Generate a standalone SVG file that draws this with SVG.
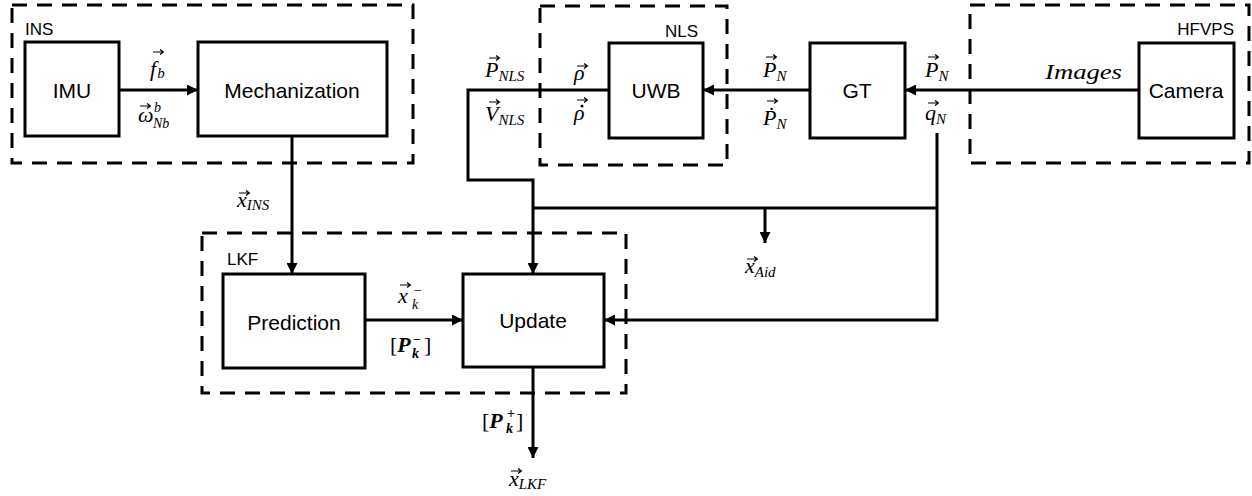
<svg xmlns="http://www.w3.org/2000/svg" width="1252" height="496" viewBox="0 0 1252 496">
<style>
.box{fill:#fff;stroke:#000;stroke-width:3}
.grp{fill:none;stroke:#000;stroke-width:3;stroke-dasharray:15 10}
.wire{fill:none;stroke:#000;stroke-width:3}
.t{font-family:"Liberation Sans",Arial,sans-serif;font-size:21px;fill:#000;text-anchor:middle}
.g{font-family:"Liberation Sans",Arial,sans-serif;font-size:17px;fill:#000}
.m{font-family:"Liberation Serif","DejaVu Serif",serif;font-style:italic;font-size:22px;fill:#000}
.s{font-size:15px}
.ss{font-family:"Liberation Serif","DejaVu Serif",serif;font-style:italic;font-size:14px;fill:#000}
.b{font-weight:bold}
.n{font-style:normal}
</style>
<defs>
<marker id="ah" viewBox="0 0 10 10" refX="10" refY="5" markerWidth="12" markerHeight="11" markerUnits="userSpaceOnUse" orient="auto">
<path d="M0,0 L10,5 L0,10 z" fill="#000"/>
</marker>
<path id="v" d="M0,0 H10 M7,-2.6 L10.4,0 L7,2.6" fill="none" stroke="#000" stroke-width="1.2"/>
</defs>
<g id="group-INS"><rect class="grp" x="12" y="5" width="401" height="158"/><text class="g" x="25" y="35">INS</text></g>
<g id="group-NLS"><rect class="grp" x="540" y="6" width="187" height="159"/><text class="g" x="698" y="37" text-anchor="end">NLS</text></g>
<g id="group-HFVPS"><rect class="grp" x="970" y="5" width="279" height="158"/><text class="g" x="1234" y="35" text-anchor="end">HFVPS</text></g>
<g id="group-LKF"><rect class="grp" x="202" y="233" width="424" height="160"/><text class="g" x="227" y="265">LKF</text></g>
<g id="connectors">
<path class="wire" d="M119,90 H198" marker-end="url(#ah)"/>
<path class="wire" d="M292,136 V274" marker-end="url(#ah)"/>
<path class="wire" d="M609,90 H468 V180 H533 V274" marker-end="url(#ah)"/>
<path class="wire" d="M810,90 H703" marker-end="url(#ah)"/>
<path class="wire" d="M1139,90 H905" marker-end="url(#ah)"/>
<path class="wire" d="M937,133 V320 H604" marker-end="url(#ah)"/>
<path class="wire" d="M533,208 H937"/>
<path class="wire" d="M765,208 V243" marker-end="url(#ah)"/>
<path class="wire" d="M365,320 H463" marker-end="url(#ah)"/>
<path class="wire" d="M533,367 V458" marker-end="url(#ah)"/>
</g>
<g id="node-IMU"><rect class="box" x="25" y="42" width="94" height="94"/><text class="t" x="72" y="98">IMU</text></g>
<g id="node-Mechanization"><rect class="box" x="198" y="42" width="189" height="94"/><text class="t" x="292" y="98">Mechanization</text></g>
<g id="node-UWB"><rect class="box" x="609" y="43" width="94" height="95"/><text class="t" x="656" y="98">UWB</text></g>
<g id="node-GT"><rect class="box" x="810" y="43" width="95" height="95"/><text class="t" x="857" y="98">GT</text></g>
<g id="node-Camera"><rect class="box" x="1139" y="43" width="95" height="95"/><text class="t" x="1186" y="98">Camera</text></g>
<g id="node-Prediction"><rect class="box" x="223" y="274" width="142" height="94"/><text class="t" x="294" y="330">Prediction</text></g>
<g id="node-Update"><rect class="box" x="463" y="274" width="141" height="93"/><text class="t" x="533" y="328">Update</text></g>
<g id="labels">
<text class="m" x="150" y="76">f<tspan class="s" dx="1" dy="2">b</tspan></text>
<use href="#v" x="153" y="52"/>
<text class="m" x="138" y="122">ω</text>
<text class="ss" x="154" y="112">b</text>
<text class="ss" x="153" y="128">Nb</text>
<use href="#v" x="140" y="106"/>
<text class="m" x="485" y="77">P<tspan class="s" dy="4">NLS</tspan></text>
<use href="#v" x="489" y="58"/>
<text class="m" x="485" y="121">V<tspan class="s" dy="4">NLS</tspan></text>
<use href="#v" x="489" y="102"/>
<text class="m" x="574" y="80">ρ</text>
<use href="#v" x="577" y="66"/>
<text class="m" x="574" y="120">ρ</text>
<circle cx="582" cy="106" r="1.5" fill="#000"/>
<use href="#v" x="577" y="100"/>
<text class="m" x="763" y="77">P<tspan class="s" dy="4">N</tspan></text>
<use href="#v" x="766" y="57"/>
<text class="m" x="763" y="125">Ṗ<tspan class="s" dy="4">N</tspan></text>
<use href="#v" x="767" y="101"/>
<text class="m" x="925" y="77">P<tspan class="s" dy="4">N</tspan></text>
<use href="#v" x="928" y="57"/>
<text class="m" x="925" y="120">q<tspan class="s" dy="4">N</tspan></text>
<use href="#v" x="928" y="103"/>
<text class="m" x="1045" y="79" font-size="24" textLength="77" lengthAdjust="spacingAndGlyphs">Images</text>
<text class="m" x="237" y="207">x<tspan class="s" dy="3">INS</tspan></text>
<use href="#v" x="239" y="193"/>
<text class="m" x="745" y="273">x<tspan class="s" dy="4">Aid</tspan></text>
<use href="#v" x="747" y="259"/>
<text class="m" x="398" y="303">x</text>
<use href="#v" x="400" y="285"/>
<text class="ss n" x="414" y="295">−</text>
<text class="ss" x="412" y="309">k</text>
<text class="m" x="390" y="352"><tspan class="n">[</tspan><tspan class="b">P</tspan></text>
<text class="ss b n" x="413" y="344">−</text>
<text class="ss b" x="412" y="358">k</text>
<text class="m n" x="424" y="352">]</text>
<text class="m" x="482" y="428"><tspan class="n">[</tspan><tspan class="b">P</tspan></text>
<text class="ss b n" x="507" y="418">+</text>
<text class="ss b" x="506" y="433">k</text>
<text class="m n" x="516" y="428">]</text>
<text class="m" x="509" y="486">x<tspan class="s" dy="3">LKF</tspan></text>
<use href="#v" x="511" y="471"/>
</g>
</svg>
